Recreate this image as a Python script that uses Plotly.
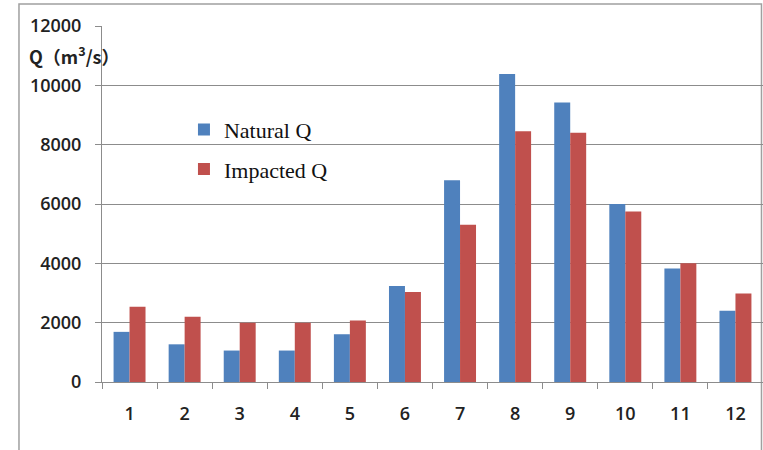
import plotly.graph_objects as go

months = ["1", "2", "3", "4", "5", "6", "7", "8", "9", "10", "11", "12"]
natural_q = [1690, 1270, 1060, 1060, 1610, 3240, 6800, 10380, 9420, 6000, 3830, 2400]
impacted_q = [2540, 2200, 2000, 2000, 2070, 3030, 5300, 8450, 8400, 5750, 4000, 2980]
y_ticks = [0, 2000, 4000, 6000, 8000, 10000, 12000]

BLUE = "#4F81BD"
RED = "#C0504D"
GRID = "#8C8C8C"
SANS = "Open Sans, Noto Sans CJK SC, sans-serif"
SERIF = "Liberation Serif, Times New Roman, serif"

fig = go.Figure()
fig.add_trace(go.Bar(x=months, y=natural_q, name="Natural Q", marker_color=BLUE,
                     marker_line_width=0, legendgroup="a"))
fig.add_trace(go.Bar(x=months, y=impacted_q, name="Impacted Q", marker_color=RED,
                     marker_line_width=0, legendgroup="b"))

fig.update_layout(
    width=763, height=450,
    margin=dict(l=102, r=0, t=26, b=68),
    paper_bgcolor="white", plot_bgcolor="white",
    barmode="group", bargap=0.42, bargroupgap=0,
    showlegend=True,
    legend=dict(x=0.124, y=0.768, xanchor="left", yanchor="top",
                font=dict(family=SERIF, size=22, color="#111"),
                tracegroupgap=8, bgcolor="rgba(0,0,0,0)", itemsizing="constant"),
    xaxis=dict(type="category", tickson="boundaries", ticks="outside", ticklen=6,
               tickcolor=GRID, showline=True, linecolor=GRID, linewidth=1,
               showgrid=False, ticklabelstandoff=15,
               tickfont=dict(family=SANS, size=18, color="#222", weight=600)),
    yaxis=dict(range=[0, 12000], tickvals=y_ticks, ticktext=[str(v) for v in y_ticks],
               ticks="outside", ticklen=6, tickcolor=GRID,
               showline=True, linecolor=GRID, linewidth=1,
               showgrid=True, gridcolor=GRID, gridwidth=1, zeroline=False,
               ticklabelstandoff=10,
               tickfont=dict(family=SANS, size=18, color="#222", weight=600)),
    annotations=[dict(text="Q（m<sup>3</sup>/s）", xref="paper", yref="paper",
                      x=-0.114, y=0.918, xanchor="left", yanchor="middle",
                      showarrow=False,
                      font=dict(family="Noto Sans CJK SC, Open Sans, sans-serif",
                                size=18, color="#222", weight=600))],
    shapes=[dict(type="rect", xref="paper", yref="paper",
                 x0=-0.1256, x1=0.9977, y0=-0.2, y1=1.062,
                 line=dict(color="#A0A0A0", width=1.5), layer="below")],
)

fig.write_html("out.html", config={"displayModeBar": False},
               post_script="document.body.style.margin='0';")
